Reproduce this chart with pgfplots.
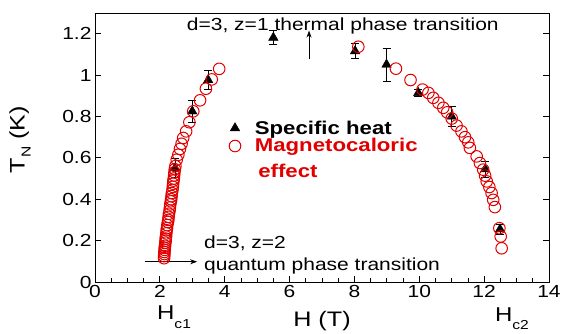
\documentclass[border=0pt]{standalone}
\usepackage{fontspec}
\setmainfont[FakeStretch=1.2]{Liberation Sans}
\usepackage{pgfplots}
\pgfplotsset{compat=1.18}
\usetikzlibrary{arrows.meta}
\definecolor{mred}{RGB}{225,0,0}

\pgfplotstableread{
x y e
2.47 0.550 0.045
3.00 0.825 0.055
3.49 0.976 0.045
5.50 1.181 0.035
8.02 1.116 0.035
8.99 1.051 0.080
9.97 0.914 0.018
11.00 0.800 0.050
12.03 0.545 0.040
12.49 0.255 0.025
}\heat

\pgfplotstableread{
x y
2.13 0.115
2.13 0.125
2.14 0.135
2.14 0.145
2.15 0.155
2.15 0.165
2.16 0.175
2.17 0.190
2.18 0.200
2.18 0.210
2.19 0.220
2.20 0.235
2.21 0.250
2.22 0.260
2.23 0.275
2.25 0.290
2.26 0.300
2.27 0.315
2.28 0.330
2.30 0.345
2.31 0.360
2.32 0.375
2.34 0.390
2.35 0.400
2.36 0.415
2.37 0.430
2.39 0.445
2.40 0.460
2.41 0.475
2.42 0.490
2.43 0.500
2.44 0.515
2.45 0.530
2.46 0.545
2.48 0.560
2.52 0.591
2.57 0.615
2.62 0.643
2.67 0.668
2.72 0.696
2.81 0.728
2.91 0.772
3.03 0.825
3.24 0.878
3.42 0.934
3.60 0.979
3.83 1.030
8.12 1.137
9.28 1.031
9.73 0.976
10.10 0.930
10.28 0.914
10.43 0.890
10.59 0.866
10.74 0.842
10.86 0.820
11.00 0.790
11.15 0.756
11.30 0.728
11.41 0.700
11.51 0.675
11.56 0.648
11.77 0.607
11.87 0.575
11.97 0.543
12.03 0.514
12.08 0.486
12.16 0.459
12.23 0.430
12.28 0.397
12.33 0.362
12.47 0.260
12.51 0.220
12.54 0.163
}\mce

\begin{document}
\begin{tikzpicture}
\begin{axis}[
  at={(0,0)}, anchor=south west,
  scale only axis, width=454pt, height=269pt,
  xmin=0, xmax=14, ymin=0, ymax=1.3,
  xtick={0,2,4,6,8,10,12,14}, minor x tick num=3,
  ytick={0,0.2,0.4,0.6,0.8,1,1.2},
  yticklabels={0,0.2,0.4,0.6,0.8,1,1.2},
  xtick pos=left, ytick pos=both, tick align=inside,
  major tick length=6pt, minor tick length=4pt,
  axis line style={line width=0.8pt},
  every tick/.style={line width=0.8pt, black},
  ticklabel style={font=\fontsize{17.5}{18}\selectfont},
  /pgf/number format/assume math mode=true,
  clip=false,
  legend cell align=left,
  legend style={at={(axis cs:4.04,0.80)}, anchor=north west, draw=none, fill=none,
    font=\bfseries\fontsize{18.5}{19}\selectfont, row sep=-1pt, column sep=12pt},
]
\addplot[only marks, mark=triangle*, mark size=5.5pt, black,
  error bars/.cd, y dir=both, y explicit,
  error bar style={line width=0.8pt, black},
  error mark options={black, mark size=4pt, line width=0.8pt, rotate=90}]
  table[x=x, y=y, y error=e] {\heat};
\addlegendentry{Specific heat}
\addplot[only marks, mark=o, mark size=5.8pt, mred, line width=1pt]
  table[x=x, y=y] {\mce};
\addlegendentry{\textcolor{mred}{Magnetocaloric}}

\node[anchor=base west, text=mred, font=\bfseries\fontsize{18.5}{19}\selectfont, inner sep=0pt]
  at (axis cs:5.03,0.504) {effect};

\node[anchor=base west, inner sep=0pt, font=\fontsize{17.5}{18}\selectfont]
  at (axis cs:2.83,1.2175) {d=3, z=1 thermal phase transition};
\draw[-{Stealth[length=7pt,width=5pt]}, line width=0.8pt] (axis cs:6.6,1.076) -- (axis cs:6.6,1.215);

\node[anchor=base west, inner sep=0pt, font=\fontsize{17.5}{18}\selectfont]
  at (axis cs:3.36,0.160) {d=3, z=2};
\node[anchor=base west, inner sep=0pt, font=\fontsize{17.5}{18}\selectfont]
  at (axis cs:3.36,0.058) {quantum phase transition};
\draw[-{Stealth[length=7pt,width=5pt]}, line width=0.8pt] (axis cs:1.54,0.098) -- (axis cs:3.15,0.098);

\node[anchor=base west, inner sep=0pt, font=\fontsize{20}{20}\selectfont]
  at (axis cs:1.91,-0.180) {H\raisebox{-9pt}{\fontsize{13}{13}\selectfont c1}};
\node[anchor=base west, inner sep=0pt, font=\fontsize{20}{20}\selectfont]
  at (axis cs:12.33,-0.190) {H\raisebox{-8pt}{\fontsize{13}{13}\selectfont c2}};
\node[anchor=center, inner sep=0pt, font=\fontsize{21}{21}\selectfont]
  at (axis cs:7.0,-0.189) {H (T)};
\node[anchor=center, inner sep=0pt, rotate=90, font=\fontsize{21}{21}\selectfont]
  at (axis cs:-2.31,0.688) {T\raisebox{-6pt}{\fontsize{13}{13}\selectfont N} (K)};
\end{axis}
\pgfresetboundingbox
\path[use as bounding box] (-95pt,-51pt) rectangle (470pt,282pt);
\end{tikzpicture}
\end{document}
